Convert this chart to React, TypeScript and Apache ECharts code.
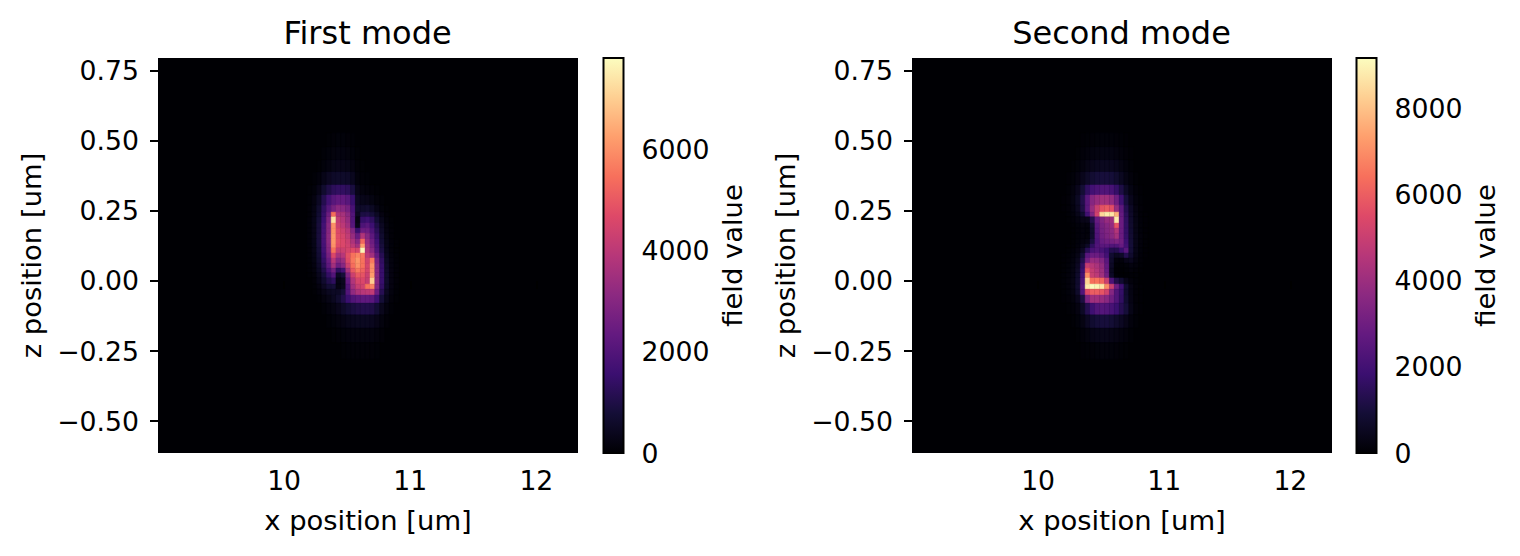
import React, { useEffect, useRef } from 'react';
import * as echarts from 'echarts';

const FONT = '"DejaVu Sans"';

// cell edges in um (non-uniform in z)
const xEdges = [10.18, 10.2185, 10.257, 10.2955, 10.334, 10.3725, 10.411, 10.4495, 10.488, 10.5265, 10.565, 10.6035, 10.642, 10.6805, 10.719, 10.7575, 10.796, 10.8345, 10.873, 10.9115];
const zEdges = [0.53, 0.479, 0.432, 0.389, 0.343, 0.307, 0.271, 0.246, 0.229, 0.207, 0.189, 0.171, 0.15, 0.132, 0.118, 0.1, 0.082, 0.064, 0.046, 0.029, 0.011, -0.011, -0.029, -0.05, -0.079, -0.121, -0.168, -0.22, -0.28];

const firstMode = [
  [0, 0, 0, 0, 30, 70, 90, 90, 70, 40, 0, 0, 0, 0, 0, 0, 0, 0, 0],
  [0, 0, 0, 40, 90, 140, 170, 170, 140, 90, 30, 0, 0, 0, 0, 0, 0, 0, 0],
  [0, 0, 30, 90, 170, 260, 300, 300, 260, 190, 70, 30, 0, 0, 0, 0, 0, 0, 0],
  [0, 40, 120, 290, 450, 560, 600, 600, 560, 400, 130, 60, 40, 0, 0, 0, 0, 0, 0],
  [30, 90, 300, 650, 1000, 1250, 1350, 1350, 1250, 900, 300, 150, 110, 60, 30, 0, 0, 0, 0],
  [50, 180, 500, 1100, 1700, 2100, 2300, 2300, 2100, 1500, 450, 320, 300, 200, 100, 40, 0, 0, 0],
  [60, 230, 650, 1350, 2100, 2700, 3100, 3000, 2700, 1800, 600, 600, 650, 480, 250, 90, 30, 0, 0],
  [70, 260, 720, 1450, 2500, 5400, 3700, 3600, 3100, 2000, 450, 950, 1000, 800, 480, 190, 60, 0, 0],
  [80, 290, 800, 1550, 2800, 7300, 4100, 3800, 3300, 2000, 200, 1450, 1600, 1300, 750, 320, 110, 30, 0],
  [80, 300, 850, 1700, 3000, 6000, 4300, 4000, 3500, 2100, 350, 1900, 2100, 1600, 1000, 450, 150, 50, 0],
  [80, 300, 850, 1750, 3000, 6000, 4600, 4300, 3900, 2900, 1500, 2500, 2500, 1900, 1200, 550, 190, 60, 0],
  [80, 300, 880, 1800, 3100, 6100, 4700, 4500, 4100, 3300, 2400, 3800, 3000, 2200, 1400, 650, 220, 70, 0],
  [80, 290, 880, 1800, 3100, 6100, 4800, 4600, 4300, 3700, 3000, 5300, 3300, 2500, 1600, 750, 260, 80, 30],
  [80, 290, 850, 1750, 3000, 6000, 4700, 4600, 4400, 4000, 3500, 6200, 3500, 2700, 1750, 850, 300, 90, 30],
  [70, 270, 800, 1700, 2900, 5500, 4200, 4300, 4500, 4700, 4500, 7700, 3700, 3000, 1900, 950, 330, 100, 30],
  [60, 240, 740, 1550, 2700, 4600, 3600, 3900, 4800, 5500, 5800, 5600, 4000, 3500, 2300, 1150, 400, 120, 40],
  [50, 210, 650, 1400, 2400, 3900, 3000, 3400, 4700, 5600, 6100, 5500, 4400, 5600, 2700, 1350, 480, 150, 50],
  [40, 170, 580, 1250, 2200, 3500, 2500, 3000, 4300, 5400, 6000, 5500, 4500, 6000, 2900, 1450, 550, 170, 60],
  [40, 140, 480, 1050, 1800, 2600, 1300, 1700, 3600, 5000, 5600, 5200, 4500, 6000, 3000, 1500, 580, 190, 60],
  [30, 100, 380, 820, 1400, 2000, 500, 800, 2800, 4300, 5000, 4900, 4300, 6200, 3000, 1500, 600, 190, 60],
  [0, 70, 290, 640, 1050, 1300, 250, 400, 2300, 3800, 4500, 4600, 4200, 7000, 3000, 1500, 600, 190, 60],
  [0, 50, 190, 450, 750, 800, 220, 400, 2000, 3500, 4200, 4400, 5500, 5800, 2900, 1400, 560, 180, 50],
  [0, 30, 120, 270, 420, 500, 500, 800, 2000, 3200, 3700, 3900, 4000, 4100, 2500, 1150, 450, 150, 40],
  [0, 0, 50, 140, 260, 420, 650, 1050, 1550, 1950, 2150, 2250, 2250, 2150, 1600, 800, 320, 100, 30],
  [0, 0, 0, 50, 120, 210, 350, 550, 750, 900, 1000, 1050, 1050, 1000, 750, 380, 150, 50, 0],
  [0, 0, 0, 0, 40, 90, 150, 230, 320, 390, 420, 430, 430, 400, 300, 150, 60, 0, 0],
  [0, 0, 0, 0, 0, 30, 60, 90, 130, 150, 160, 160, 160, 150, 110, 60, 0, 0, 0],
  [0, 0, 0, 0, 0, 0, 0, 30, 50, 60, 70, 70, 70, 60, 40, 0, 0, 0, 0],
];

const secondMode = [
  [0, 0, 0, 0, 30, 60, 80, 100, 110, 110, 100, 80, 50, 30, 0, 0, 0, 0, 0],
  [0, 0, 0, 40, 90, 150, 200, 230, 250, 250, 230, 190, 130, 70, 30, 0, 0, 0, 0],
  [0, 0, 40, 100, 190, 310, 410, 470, 500, 500, 460, 380, 260, 140, 60, 0, 0, 0, 0],
  [0, 30, 100, 220, 420, 650, 850, 960, 1000, 1000, 950, 780, 520, 280, 120, 40, 0, 0, 0],
  [0, 60, 180, 420, 900, 1550, 2000, 2200, 2300, 2300, 2100, 1700, 1150, 600, 250, 90, 30, 0, 0],
  [30, 80, 230, 560, 1250, 2500, 3500, 3900, 4100, 4100, 3800, 3000, 1900, 1000, 420, 150, 50, 0, 0],
  [30, 80, 200, 500, 1150, 2500, 3900, 5000, 5700, 5900, 5600, 3900, 2600, 1300, 600, 220, 70, 0, 0],
  [0, 60, 150, 370, 800, 2000, 3400, 5200, 8400, 8800, 8700, 7700, 2800, 1450, 680, 260, 80, 30, 0],
  [0, 40, 90, 200, 350, 400, 1300, 2800, 3400, 3900, 4000, 8800, 2900, 1550, 720, 280, 90, 30, 0],
  [0, 0, 50, 110, 170, 160, 850, 2500, 3200, 3500, 3800, 5800, 2900, 1600, 760, 300, 100, 30, 0],
  [0, 0, 30, 90, 140, 110, 750, 2400, 3100, 3400, 3700, 4500, 2900, 1650, 800, 320, 110, 30, 0],
  [0, 0, 30, 90, 150, 130, 750, 2300, 3000, 3300, 3600, 4200, 2900, 1700, 850, 340, 120, 40, 0],
  [0, 0, 40, 110, 190, 260, 1050, 2200, 2800, 3000, 3100, 3300, 3000, 1850, 900, 350, 120, 40, 0],
  [0, 30, 60, 140, 300, 600, 1550, 2300, 2500, 2500, 2300, 2300, 2800, 2000, 950, 350, 120, 40, 0],
  [0, 40, 90, 220, 530, 1400, 2100, 2300, 2100, 1800, 1300, 1300, 1800, 2500, 900, 330, 110, 30, 0],
  [30, 60, 140, 320, 900, 2500, 2900, 2900, 2600, 2000, 800, 500, 650, 1300, 750, 280, 90, 30, 0],
  [30, 80, 190, 440, 1250, 3100, 3900, 3800, 3400, 2500, 700, 150, 120, 350, 450, 200, 70, 0, 0],
  [40, 100, 230, 550, 1600, 4900, 4600, 4300, 3800, 2700, 600, 50, 50, 100, 200, 120, 50, 0, 0],
  [40, 110, 260, 630, 1800, 5800, 4900, 4500, 4000, 2800, 500, 30, 20, 50, 120, 80, 30, 0, 0],
  [50, 120, 280, 700, 2000, 7000, 5000, 4700, 4100, 3000, 600, 40, 10, 20, 60, 50, 0, 0, 0],
  [50, 130, 300, 750, 2200, 8300, 6400, 6500, 6200, 5000, 2200, 1200, 800, 350, 130, 50, 0, 0, 0],
  [50, 130, 300, 780, 2400, 8800, 9150, 9000, 8700, 7000, 5000, 3000, 1900, 800, 260, 80, 30, 0, 0],
  [40, 110, 260, 700, 2300, 5500, 6000, 6000, 5800, 5200, 3500, 2300, 1700, 750, 250, 80, 30, 0, 0],
  [30, 80, 170, 420, 1100, 3300, 4100, 4100, 3900, 3600, 3000, 2300, 1600, 800, 280, 80, 30, 0, 0],
  [0, 40, 90, 220, 600, 1300, 1900, 2300, 2400, 2300, 2100, 1800, 1350, 950, 330, 90, 30, 0, 0],
  [0, 0, 40, 110, 260, 550, 800, 950, 1000, 1000, 900, 720, 550, 350, 150, 50, 0, 0, 0],
  [0, 0, 0, 40, 90, 190, 290, 340, 370, 370, 320, 260, 190, 120, 50, 0, 0, 0, 0],
  [0, 0, 0, 0, 30, 50, 80, 110, 130, 130, 110, 90, 60, 40, 0, 0, 0, 0, 0],
];

const firstMax = 7800;
const secondMax = 9180;
const firstBarTicks = [0, 2000, 4000, 6000];
const secondBarTicks = [0, 2000, 4000, 6000, 8000];
const xTicks = [10, 11, 12];
const zTicks = [-0.5, -0.25, 0, 0.25, 0.5, 0.75];
const xRange = [9.0, 12.33];
const zRange = [-0.614, 0.796];

const magma = ['#000004', '#140e36', '#3b0f70', '#641a80', '#8c2981', '#b73779', '#de4968', '#f7705c', '#fe9f6d', '#fecf92', '#fcfdbf'];

const cells = (rows: number[][]) => {
  const out: number[][] = [];
  rows.forEach((row, r) =>
    row.forEach((v, c) => {
      if (v > 0) out.push([xEdges[c], xEdges[c + 1], zEdges[r], zEdges[r + 1], v]);
    }),
  );
  return out;
};

const tickLine = { show: true, length: 8, lineStyle: { color: '#000', width: 2 } };
const text = { color: '#000', fontFamily: FONT, fontSize: 26.7 };
const nameText = { ...text, fontSize: 27.4 };

const fmtZ = (v: number) => {
  const s = Math.abs(v).toFixed(2);
  return v < 0 ? '\u2212' + s : s;
};

const fieldSeries = (i: number, rows: number[][]) => ({
  type: 'custom',
  xAxisIndex: i,
  yAxisIndex: i,
  data: cells(rows),
  dimensions: ['x0', 'x1', 'z0', 'z1', 'value'],
  encode: { x: 0, y: 2 },
  silent: true,
  renderItem: (_: any, api: any) => {
    const a = api.coord([api.value(0), api.value(2)]);
    const b = api.coord([api.value(1), api.value(3)]);
    const color = api.visual('color');
    return {
      type: 'rect',
      shape: { x: a[0], y: a[1], width: b[0] - a[0], height: b[1] - a[1] },
      style: { fill: color, stroke: color, lineWidth: 0.4 },
    };
  },
});

const barSeries = (i: number, max: number) => ({
  type: 'custom',
  xAxisIndex: i,
  yAxisIndex: i,
  data: [[0, 1, 0, max]],
  encode: { x: 0, y: 2 },
  silent: true,
  clip: false,
  renderItem: (_: any, api: any) => {
    const a = api.coord([api.value(0), api.value(3)]);
    const b = api.coord([api.value(1), api.value(2)]);
    return {
      type: 'rect',
      shape: { x: a[0], y: a[1], width: b[0] - a[0], height: b[1] - a[1] },
      style: {
        fill: new echarts.graphic.LinearGradient(
          0, 1, 0, 0,
          magma.map((color, k) => ({ offset: k / (magma.length - 1), color })),
        ),
        stroke: '#000',
        lineWidth: 2,
      },
    };
  },
});

export default function App() {
  const ref = useRef<HTMLDivElement>(null);

  useEffect(() => {
    if (!ref.current) return;
    const chart = echarts.init(ref.current, undefined, { renderer: 'svg' });

    const panel = (left: number, barLeft: number) => [
      { left, top: 58, width: 420, height: 395, show: true, backgroundColor: '#000004', borderWidth: 0 },
      { left: barLeft, top: 58, width: 20, height: 395 },
    ];

    const fieldX = (gridIndex: number) => ({
      type: 'value',
      gridIndex,
      min: xRange[0],
      max: xRange[1],
      name: 'x position [um]',
      nameLocation: 'middle',
      nameGap: 54,
      nameTextStyle: nameText,
      splitLine: { show: false },
      axisLine: { show: false },
      axisTick: { ...tickLine, customValues: xTicks },
      axisLabel: { ...text, margin: 14, customValues: xTicks, formatter: (v: number) => String(v) },
    });
    const fieldY = (gridIndex: number) => ({
      type: 'value',
      gridIndex,
      min: zRange[0],
      max: zRange[1],
      name: 'z position [um]',
      nameLocation: 'middle',
      nameGap: 113,
      nameTextStyle: nameText,
      splitLine: { show: false },
      axisLine: { show: false },
      axisTick: { ...tickLine, customValues: zTicks },
      axisLabel: { ...text, margin: 19, customValues: zTicks, formatter: fmtZ },
    });
    const barX = (gridIndex: number) => ({
      type: 'value',
      gridIndex,
      min: 0,
      max: 1,
      show: false,
    });
    const barY = (gridIndex: number, max: number, ticks: number[]) => ({
      type: 'value',
      gridIndex,
      position: 'right',
      min: 0,
      max,
      name: 'field value',
      nameLocation: 'middle',
      nameRotate: 90,
      nameGap: 95,
      nameTextStyle: nameText,
      splitLine: { show: false },
      axisLine: { show: false },
      axisTick: { ...tickLine, customValues: ticks },
      axisLabel: { ...text, margin: 18, customValues: ticks, formatter: (v: number) => String(v) },
    });

    chart.setOption({
      animation: false,
      backgroundColor: '#fff',
      title: [
        { text: 'First mode', left: 362.5, top: 12, textAlign: 'center', textStyle: { ...text, fontSize: 32, fontWeight: 'normal' } },
        { text: 'Second mode', left: 1116.5, top: 12, textAlign: 'center', textStyle: { ...text, fontSize: 32, fontWeight: 'normal' } },
      ],
      grid: [...panel(158, 603.5), ...panel(912, 1356.5)],
      xAxis: [fieldX(0), barX(1), fieldX(2), barX(3)],
      yAxis: [fieldY(0), barY(1, firstMax, firstBarTicks), fieldY(2), barY(3, secondMax, secondBarTicks)],
      visualMap: [
        { show: false, seriesIndex: 0, dimension: 4, min: 0, max: firstMax, inRange: { color: magma } },
        { show: false, seriesIndex: 2, dimension: 4, min: 0, max: secondMax, inRange: { color: magma } },
      ],
      series: [
        fieldSeries(0, firstMode),
        barSeries(1, firstMax),
        fieldSeries(2, secondMode),
        barSeries(3, secondMax),
      ],
    });

    return () => {
      chart.dispose();
    };
  }, []);

  return <div ref={ref} style={{ position: 'absolute', left: 0, top: 0, width: 1520, height: 556 }} />;
}
